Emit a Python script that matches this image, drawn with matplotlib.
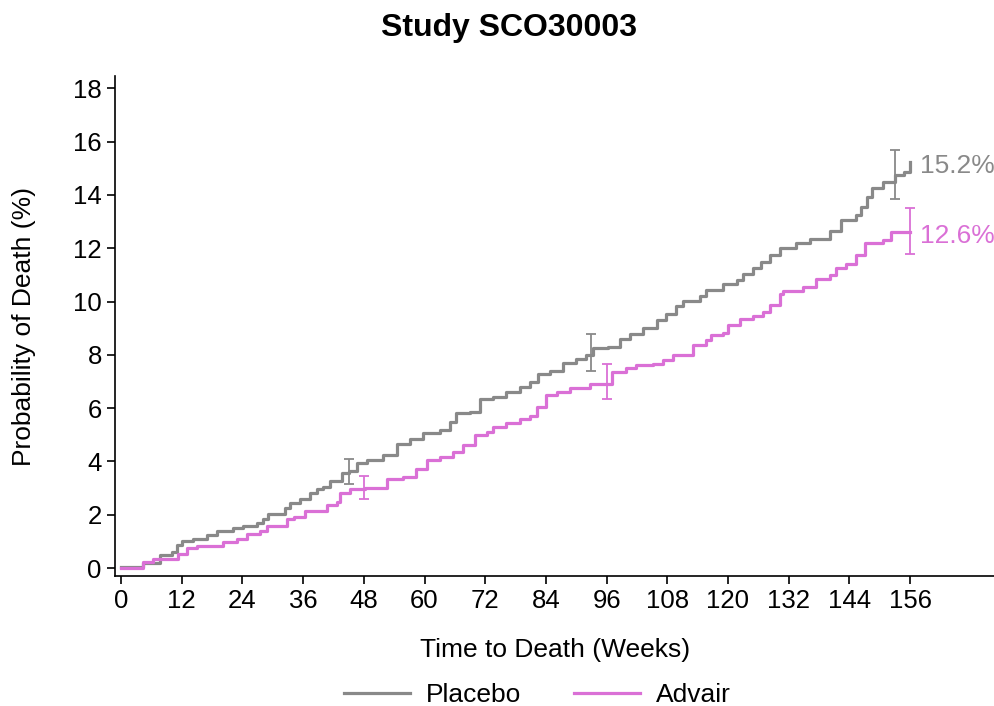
import matplotlib
matplotlib.use("Agg")
import matplotlib.pyplot as plt

plt.rcParams['font.family'] = ['Liberation Sans', 'DejaVu Sans']

# Kaplan-Meier step points (weeks, % dead)
pbo_wk = [0, 4.4, 7.7, 10, 11, 12, 14.3, 16.9, 18.9, 22.2, 24.2, 26.8, 28.1, 29.1, 32.4,
          33.4, 35.4, 37.4, 38.7, 40, 41.3, 43.6, 45, 46.6, 48.6, 51.8, 54.5, 57.1, 59.7,
          63, 65, 66.3, 69, 71, 73.5, 76.2, 78.9, 80.8, 82.4, 84.8, 87.4, 90, 92, 93.3,
          96.3, 98.6, 100.6, 103.2, 105.9, 107.8, 109.8, 111.1, 114.4, 115.7, 119, 121.7,
          122.9, 124.9, 126.6, 128.3, 130.2, 133.5, 136.2, 140.1, 142.4, 145.4, 146.4,
          147.4, 148.4, 150.7, 153, 154.9, 155.9]
pbo_pct = [0.05, 0.18, 0.49, 0.61, 0.86, 1.02, 1.11, 1.26, 1.40, 1.49, 1.59, 1.68, 1.83,
           2.02, 2.24, 2.45, 2.61, 2.80, 2.95, 3.05, 3.27, 3.55, 3.65, 3.93, 4.05, 4.24,
           4.67, 4.86, 5.07, 5.17, 5.49, 5.80, 5.86, 6.33, 6.40, 6.61, 6.78, 6.99, 7.27,
           7.38, 7.70, 7.83, 7.99, 8.24, 8.30, 8.61, 8.80, 8.99, 9.30, 9.55, 9.82, 10.02,
           10.20, 10.42, 10.65, 10.80, 11.05, 11.24, 11.49, 11.74, 11.99, 12.20, 12.36,
           12.65, 13.07, 13.24, 13.55, 13.92, 14.24, 14.49, 14.74, 14.84, 15.24]

adv_wk = [0, 4.4, 6.4, 11.3, 13, 15, 20.2, 22.9, 24.9, 27.5, 28.8, 32.8, 34.1, 36.4, 40.7,
          42.6, 43.3, 45.3, 48.2, 52.5, 55.8, 58.4, 60.4, 63, 65.6, 67.6, 70, 72.3, 73.5,
          76.2, 78.9, 80.8, 82.2, 84.1, 86.1, 88.7, 92.7, 97, 99.9, 101.9, 105.1, 107.1,
          109.1, 113, 115.7, 116.7, 119, 120, 122.3, 124.9, 126.9, 128.3, 130.2, 130.9,
          134.8, 137.5, 140.1, 141.4, 143.4, 145.4, 147, 150.7, 152.2, 156]
adv_pct = [0.0, 0.24, 0.33, 0.52, 0.74, 0.82, 0.99, 1.11, 1.27, 1.40, 1.57, 1.83, 1.90,
           2.15, 2.36, 2.49, 2.80, 2.96, 3.01, 3.33, 3.42, 3.70, 4.05, 4.17, 4.36, 4.61,
           4.99, 5.11, 5.30, 5.45, 5.61, 5.70, 6.05, 6.49, 6.61, 6.76, 6.92, 7.36, 7.49,
           7.61, 7.64, 7.80, 7.99, 8.36, 8.55, 8.74, 8.82, 9.11, 9.34, 9.45, 9.61, 9.86,
           10.30, 10.40, 10.55, 10.86, 10.99, 11.24, 11.40, 11.74, 12.20, 12.32, 12.62, 12.62]

# 95% CI bars
pbo_ci_wk = [45, 93, 153]
pbo_ci_lo = [3.15, 7.40, 13.86]
pbo_ci_hi = [4.11, 8.80, 15.67]
adv_ci_wk = [48, 96, 156]
adv_ci_lo = [2.58, 6.36, 11.80]
adv_ci_hi = [3.45, 7.65, 13.49]

end_labels = ['15.2%', '12.6%']

gray = '#898989'
pink = '#DA70D6'

fig = plt.figure(figsize=(9.95, 7.06), dpi=100)
ax = fig.add_axes([0.1156, 0.184, 0.8844, 0.708])

ax.plot(pbo_wk, pbo_pct, drawstyle='steps-post', color=gray, lw=2.3, label='Placebo')
ax.plot(adv_wk, adv_pct, drawstyle='steps-post', color=pink, lw=2.3, label='Advair')

for wk, lo, hi, c in [(pbo_ci_wk, pbo_ci_lo, pbo_ci_hi, gray),
                      (adv_ci_wk, adv_ci_lo, adv_ci_hi, pink)]:
    mid = [(a + b) / 2 for a, b in zip(lo, hi)]
    err = [(b - a) / 2 for a, b in zip(lo, hi)]
    ax.errorbar(wk, mid, yerr=err, fmt='none', ecolor=c, elinewidth=1.3,
                capsize=3.8, capthick=1.3)

ax.text(158, pbo_pct[-1] - 0.15, end_labels[0], color=gray, fontsize=19,
        va='center', ha='left')
ax.text(158, adv_pct[-1] - 0.15, end_labels[1], color=pink, fontsize=19,
        va='center', ha='left')

ax.set_xlim(-1.2, 172.8)
ax.set_ylim(-0.3, 18.45)
ax.set_xticks(range(0, 157, 12))
ax.set_yticks(range(0, 19, 2))
ax.tick_params(labelsize=18.5, length=6, width=1.2)
for s in ['top', 'right']:
    ax.spines[s].set_visible(False)
for s in ['left', 'bottom']:
    ax.spines[s].set_linewidth(1.2)

ax.set_xlabel('Time to Death (Weeks)', fontsize=19, labelpad=18)
ax.set_ylabel('Probability of Death (%)', fontsize=19, labelpad=27)
fig.suptitle('Study SCO30003', fontsize=23, fontweight='bold', x=0.512, y=0.982)

fig.legend(loc='lower center', bbox_to_anchor=(0.54, -0.035), ncol=2, frameon=False,
           fontsize=19, handlelength=2.5, handletextpad=0.6, columnspacing=2.0)

fig.savefig('out.png', dpi=100)
